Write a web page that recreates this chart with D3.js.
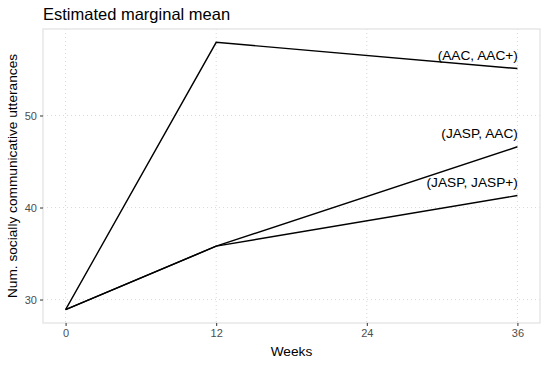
<!DOCTYPE html>
<html><head><meta charset="utf-8">
<script src="https://cdn.jsdelivr.net/npm/d3@7"></script>
<style>body{margin:0;background:#fff;} text{font-family:"Liberation Sans",Arial,sans-serif;}</style>
</head><body><svg id="c" width="548" height="366"></svg>
<script>
const weeks = [0, 12, 36];
const seriesNames = ["(AAC, AAC+)", "(JASP, AAC)", "(JASP, JASP+)"];
const aacAacPlus = [28.9, 57.95, 55.1];
const jaspAac = [28.9, 35.8, 46.6];
const jaspJaspPlus = [28.9, 35.8, 41.3];
const xTicks = [0, 12, 24, 36];
const yTicks = [30, 40, 50];

const svg = d3.select("#c");
const L = 43, R = 540, T = 29, B = 323;
const x = d3.scaleLinear().domain([-1.8, 37.8]).range([L, R]);
const y = d3.scaleLinear().domain([27.45, 59.4]).range([B, T]);

// grid
const g = svg.append("g");
g.selectAll(".gx").data(xTicks).join("line")
  .attr("x1", d => x(d)).attr("x2", d => x(d)).attr("y1", T).attr("y2", B)
  .attr("stroke", "#d4d4d4").attr("stroke-width", 0.9).attr("stroke-dasharray", "1,3");
g.selectAll(".gy").data(yTicks).join("line")
  .attr("y1", d => y(d)).attr("y2", d => y(d)).attr("x1", L).attr("x2", R)
  .attr("stroke", "#d4d4d4").attr("stroke-width", 0.9).attr("stroke-dasharray", "1,3");

// border
svg.append("rect").attr("x", L).attr("y", T).attr("width", R - L).attr("height", B - T)
  .attr("fill", "none").attr("stroke", "#e3e3e3").attr("stroke-width", 1.3);

// axes
const xa = svg.append("g").attr("transform", `translate(0,${B})`)
  .call(d3.axisBottom(x).tickValues(xTicks).tickSize(3).tickPadding(3));
const ya = svg.append("g").attr("transform", `translate(${L},0)`)
  .call(d3.axisLeft(y).tickValues(yTicks).tickSize(3).tickPadding(3));
[xa, ya].forEach(a => {
  a.select(".domain").remove();
  a.selectAll(".tick line").attr("stroke", "#333").attr("stroke-width", 1);
  a.selectAll(".tick text").attr("fill", "#4d4d4d").style("font-size", "11px")
    .style("font-family", "Liberation Sans, Arial, sans-serif");
});

// lines
const series = [aacAacPlus, jaspAac, jaspJaspPlus];
const line = d3.line().x((d, i) => x(weeks[i])).y(d => y(d));
svg.selectAll(".ln").data(series).join("path")
  .attr("d", line).attr("fill", "none").attr("stroke", "#000").attr("stroke-width", 1.4);

// labels
svg.selectAll(".lb").data(series).join("text")
  .attr("x", x(36) + 0.5).attr("y", d => y(d[2]) - 8.7)
  .attr("text-anchor", "end").style("font-size", "13.7px").attr("fill", "#000")
  .text((d, i) => seriesNames[i]);

// titles
svg.append("text").attr("x", L).attr("y", 19.5).style("font-size", "16.5px").attr("fill", "#000")
  .text("Estimated marginal mean");
svg.append("text").attr("x", (L + R) / 2).attr("y", 356).attr("text-anchor", "middle")
  .style("font-size", "13.7px").attr("fill", "#000").text("Weeks");
svg.append("text").attr("transform", `translate(17,${(T + B) / 2}) rotate(-90)`)
  .attr("text-anchor", "middle").style("font-size", "13.7px").attr("fill", "#000")
  .text("Num. socially communicative utterances");
</script></body></html>
